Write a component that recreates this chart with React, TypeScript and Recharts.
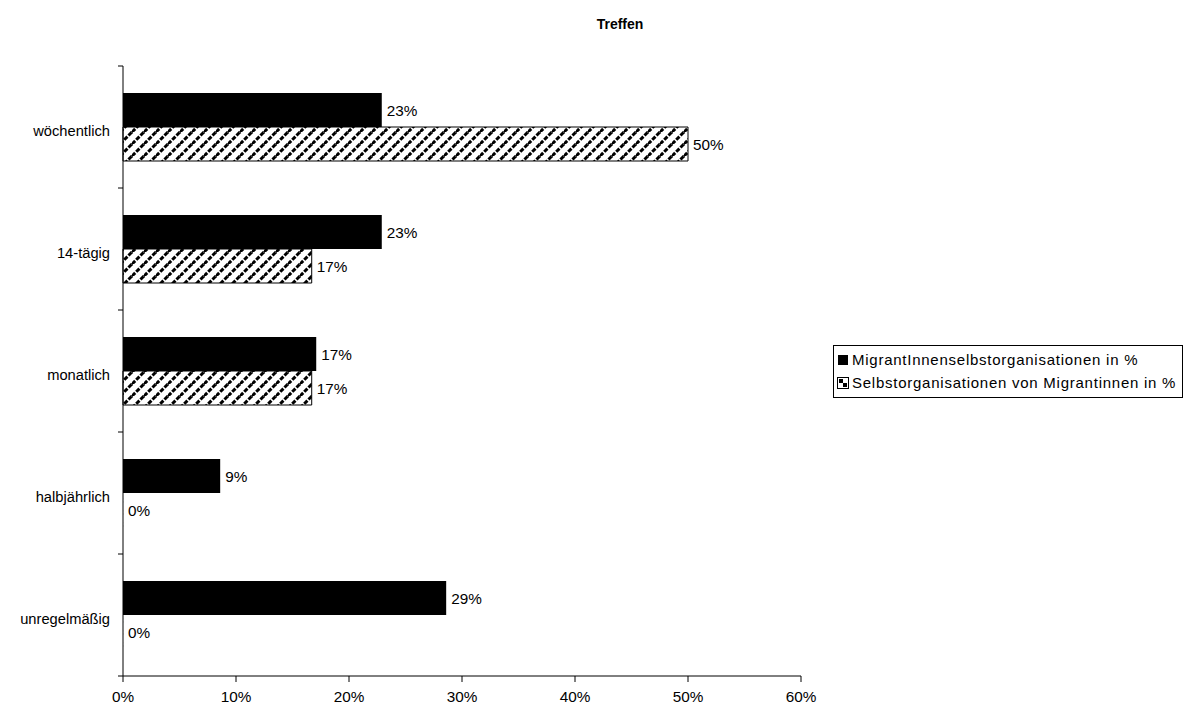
import { BarChart, Bar, XAxis, YAxis, LabelList, Cell } from "recharts";

const categories = ["wöchentlich", "14-tägig", "monatlich", "halbjährlich", "unregelmäßig"];
const migrantInnen = [22.9, 22.9, 17.1, 8.6, 28.6];
const migrantinnen = [50, 16.7, 16.7, 0, 0];
const xTicks = [0, 10, 20, 30, 40, 50, 60];

const SERIES_A = "MigrantInnenselbstorganisationen in %";
const SERIES_B = "Selbstorganisationen von Migrantinnen in %";

const data = categories.map((name, i) => ({
  name,
  a: migrantInnen[i],
  b: migrantinnen[i],
}));

const FONT = "'Liberation Sans', Arial, sans-serif";
const TICK_SIZE = 6;
const TICK_MARGIN = 7;

// value label to the right of the bar end
const ValueLabel = (props: any) => {
  const { x, y, width, height, value } = props;
  const w = Number(value) === 0 ? 0 : Number(width || 0);
  return (
    <text
      x={Number(x) + w + 5}
      y={Number(y) + Number(height) / 2}
      dy="0.36em"
      fill="#000"
      fontSize={15.3}
      fontFamily={FONT}
    >
      {`${Math.round(Number(value))}%`}
    </text>
  );
};

// category label plus a tick mark on the band boundaries (Excel style)
const CategoryTick = (props: any) => {
  const { x, y, payload, index, visibleTicksCount } = props;
  const axisX = x + TICK_SIZE + TICK_MARGIN;
  const half = payload.offset || 0;
  const isLast = index === (visibleTicksCount ?? categories.length) - 1;
  return (
    <g>
      <line x1={axisX - 5} x2={axisX} y1={y - half} y2={y - half} stroke="#000" />
      {isLast && <line x1={axisX - 5} x2={axisX} y1={y + half} y2={y + half} stroke="#000" />}
      <text x={x} y={y} dy={9} textAnchor="end" fill="#000" fontSize={14.7} fontFamily={FONT}>
        {payload.value}
      </text>
    </g>
  );
};

function LegendBox() {
  return (
    <div
      style={{
        position: "absolute",
        left: 833,
        top: 345,
        width: 345,
        border: "1px solid #000",
        padding: "2px 0 3px 3px",
        fontFamily: FONT,
        fontSize: 15,
        letterSpacing: 0.75,
        lineHeight: "23px",
        background: "white",
        color: "#000",
        whiteSpace: "nowrap",
      }}
    >
      <div style={{ display: "flex", alignItems: "center" }}>
        <svg width={12} height={12} style={{ marginRight: 3 }}>
          <rect x={1} y={1} width={10} height={10} fill="#000" />
        </svg>
        {SERIES_A}
      </div>
      <div style={{ display: "flex", alignItems: "center" }}>
        <svg width={12} height={12} style={{ marginRight: 3 }}>
          <rect x={0.5} y={0.5} width={11} height={11} fill="white" stroke="#000" />
          <rect x={2} y={2} width={4} height={4} fill="#000" />
          <rect x={6} y={6} width={4} height={4} fill="#000" />
        </svg>
        {SERIES_B}
      </div>
    </div>
  );
}

export default function App() {
  return (
    <div style={{ position: "absolute", left: 0, top: 0, width: 1185, height: 709, background: "white" }}>
      <div
        style={{
          position: "absolute",
          left: 0,
          width: 1240,
          top: 16,
          textAlign: "center",
          fontFamily: FONT,
          fontWeight: "bold",
          fontSize: 14,
        }}
      >
        Treffen
      </div>
      <BarChart
        width={1185}
        height={709}
        data={data}
        layout="vertical"
        margin={{ top: 66, right: 384, bottom: 0, left: 0 }}
        barCategoryGap={27}
        barGap={0}
        style={{ fontFamily: FONT }}
      >
        <defs>
          <pattern id="hatch" patternUnits="userSpaceOnUse" width={12} height={12}>
            <rect width={12} height={12} fill="white" />
            <path
              d="M-3,3 L3,-3 M0,12 L12,0 M9,15 L15,9"
              stroke="#000"
              strokeWidth={3}
              strokeDasharray="4.5 1.5"
            />
          </pattern>
        </defs>
        <XAxis
          type="number"
          domain={[0, 60]}
          ticks={xTicks}
          tickFormatter={(v) => `${v}%`}
          height={33}
          tickMargin={9}
          stroke="#000"
          tick={{ fill: "#000", fontSize: 15.3 }}
          interval={0}
        />
        <YAxis
          type="category"
          dataKey="name"
          width={123}
          tickLine={false}
          tickSize={TICK_SIZE}
          tickMargin={TICK_MARGIN}
          stroke="#000"
          tick={CategoryTick}
          interval={0}
        />
        <Bar dataKey="a" name={SERIES_A} fill="#000" isAnimationActive={false}>
          <LabelList dataKey="a" content={ValueLabel} />
        </Bar>
        <Bar
          dataKey="b"
          name={SERIES_B}
          fill="url(#hatch)"
          strokeWidth={1}
          minPointSize={(v: any) => (Number(v) === 0 ? 0.1 : 0)}
          isAnimationActive={false}
        >
          {migrantinnen.map((v, i) => (
            <Cell key={i} stroke={v === 0 ? "none" : "#000"} />
          ))}
          <LabelList dataKey="b" content={ValueLabel} />
        </Bar>
      </BarChart>
      <LegendBox />
    </div>
  );
}
